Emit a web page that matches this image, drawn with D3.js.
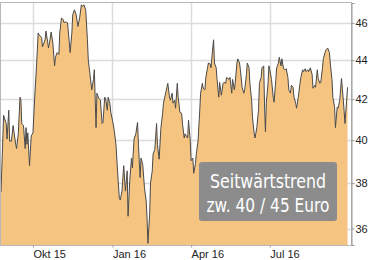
<!DOCTYPE html>
<html>
<head>
    <meta charset="utf-8">
    <title>Seitwärtstrend</title>
    <style>
        body { margin: 0; background: #fff; }
        .grid line { stroke: #dcdcdc; stroke-width: 1.5; }
        .area { fill: #f6c481; }
        .line { fill: none; stroke: #4a4a4a; stroke-width: 1; }
        .axis text { font-family: "Liberation Sans", Arial, sans-serif; font-size: 11px; fill: #222; }
        .note text { font-family: "DejaVu Sans", sans-serif; fill: #fff; }
    </style>
</head>
<body>
    <div id="chart"></div>
    <script src="https://d3js.org/d3.v7.min.js"></script>
    <script>
        // days after 25 Aug 2015 and closing prices (Euro)
        const startDate = new Date(2015, 7, 25);
        const days = [0, 3, 6, 7, 9, 10, 12, 14, 17, 18, 20, 22, 23, 24, 26, 28, 29, 30, 31, 33,
            35, 37, 39, 41, 43, 44, 47, 48, 51, 52, 54, 55, 57, 58, 60, 62, 63, 65, 67, 68,
            70, 72, 73, 75, 77, 79, 80, 82, 83, 85, 87, 89, 91, 93, 94, 96, 98, 100, 101, 103,
            105, 107, 108, 110, 111, 113, 115, 117, 118, 120, 121, 123, 124, 126, 127, 129, 131, 133, 135, 137,
            138, 140, 142, 144, 146, 147, 149, 151, 152, 154, 156, 158, 159, 161, 162, 164, 166, 168, 169, 170,
            172, 173, 175, 176, 178, 180, 181, 183, 185, 187, 188, 190, 192, 193, 195, 196, 198, 199, 201, 202,
            204, 205, 207, 209, 210, 212, 213, 216, 217, 219, 220, 222, 223, 225, 226, 228, 230, 231, 233, 234,
            236, 237, 239, 240, 242, 243, 245, 246, 247, 249, 250, 252, 253, 255, 257, 258, 260, 261, 264, 265,
            267, 268, 270, 271, 273, 274, 276, 277, 279, 281, 282, 284, 285, 287, 288, 290, 291, 293, 294, 296,
            298, 299, 301, 302, 304, 305, 306, 307, 309, 310, 311, 313, 315, 316, 318, 319, 321, 322, 324, 325,
            327, 329, 330, 332, 333, 335, 336, 338, 339, 341, 342, 344, 346, 347, 349, 350, 352, 353, 355, 356,
            358, 360, 361, 363, 364, 366, 367, 369, 370, 372, 373, 375, 376, 378, 380, 381, 383, 384, 386, 387,
            389, 390, 392, 394, 395, 397, 398, 400, 401];
        const prices = [37.6, 41.2, 40.8, 40.05, 41.45, 39.95, 39.95, 40.7, 39.8, 39.6, 40.3, 42.1, 41.95, 40.8, 40.7, 39.6, 40.6, 39.8, 40.35, 38.8,
            40.2, 40.35, 42.1, 43.6, 45.45, 45.35, 45.2, 44.7, 45.08, 45.55, 44.95, 44.64, 45.17, 45.5, 44.9, 43.7, 44.15, 44.4, 44.3, 45.45,
            46.27, 46.17, 46.0, 46.05, 46.0, 44.95, 44.4, 45.45, 46.44, 46.72, 46.44, 45.8, 46.27, 47.0, 46.9, 47.0, 46.72, 45.08, 44.0, 43.25,
            42.47, 43.0, 43.5, 40.6, 42.3, 42.05, 41.95, 40.8, 40.85, 42.1, 42.05, 41.45, 42.1, 41.8, 41.35, 40.96, 40.47, 39.8, 38.45, 37.3,
            37.25, 37.64, 38.8, 37.64, 38.56, 36.53, 38.1, 39.15, 38.7, 40.05, 40.3, 40.85, 39.8, 38.25, 39.15, 38.85, 37.8, 37.2, 36.45, 35.37,
            36.62, 38.0, 38.56, 39.35, 39.55, 40.8, 39.8, 39.1, 40.57, 41.3, 41.8, 42.2, 42.6, 42.8, 42.1, 41.95, 42.3, 41.8, 41.95, 41.55,
            42.8, 42.1, 41.35, 41.3, 40.8, 40.1, 40.3, 40.1, 40.96, 39.95, 39.03, 39.15, 38.45, 38.9, 39.35, 39.95, 41.45, 42.3, 42.8, 42.55,
            42.47, 43.1, 43.6, 43.85, 43.8, 43.6, 44.64, 45.08, 43.85, 43.6, 43.0, 42.1, 42.85, 42.2, 42.8, 42.85, 42.8, 43.1, 43.0, 43.1,
            42.3, 43.0, 42.47, 42.8, 43.85, 44.07, 43.85, 43.5, 42.6, 42.3, 42.47, 43.25, 43.85, 43.6, 42.8, 41.95, 41.1, 40.3, 40.1, 40.6,
            41.45, 42.8, 43.1, 43.6, 43.7, 41.6, 40.4, 41.8, 42.8, 43.7, 43.5, 43.0, 42.1, 41.85, 43.0, 43.6, 43.85, 44.15, 43.7, 44.07,
            43.55, 43.5, 43.55, 43.1, 42.47, 42.3, 42.7, 42.6, 42.1, 41.8, 41.55, 42.1, 42.8, 43.1, 43.5, 43.4, 43.55, 43.4, 43.5, 43.4,
            43.6, 43.25, 42.55, 42.7, 42.6, 43.5, 43.05, 42.8, 42.85, 43.6, 44.07, 44.4, 44.54, 44.64, 44.4, 43.85, 43.0, 42.1, 41.6, 40.6,
            41.6, 41.55, 41.95, 43.05, 42.55, 41.45, 40.8, 41.95, 42.6];

        const yTicks = [36, 38, 40, 42, 44, 46];
        const xTicks = [new Date(2015, 9, 1), new Date(2016, 0, 1), new Date(2016, 3, 1), new Date(2016, 6, 1)];
        const xLabels = ["Okt 15", "Jan 16", "Apr 16", "Jul 16"];
        const noteLines = ["Seitwärtstrend", "zw. 40 / 45 Euro"];

        const width = 368, height = 260;
        const plot = { left: 1, right: 351, top: 3, bottom: 245 };

        const data = days.map((d, i) => ({ date: d3.timeDay.offset(startDate, d), value: prices[i] }));

        const svg = d3.select("#chart").append("svg")
            .attr("width", width)
            .attr("height", height);

        const x = d3.scaleTime()
            .domain([startDate, new Date(2016, 9, 3)])
            .range([plot.left, plot.right]);

        const y = d3.scaleLog()
            .domain([35.3, 47.1])
            .range([plot.bottom, plot.top]);

        // gridlines
        const grid = svg.append("g").attr("class", "grid");
        grid.selectAll(".h").data(yTicks).enter().append("line")
            .attr("x1", plot.left).attr("x2", plot.right)
            .attr("y1", d => Math.round(y(d)) + 0.5).attr("y2", d => Math.round(y(d)) + 0.5);
        grid.selectAll(".v").data(xTicks).enter().append("line")
            .attr("x1", d => Math.round(x(d)) + 0.5).attr("x2", d => Math.round(x(d)) + 0.5)
            .attr("y1", plot.top).attr("y2", plot.bottom);

        // price area + line
        const area = d3.area()
            .x(d => x(d.date))
            .y0(plot.bottom)
            .y1(d => y(d.value));
        const line = d3.line()
            .x(d => x(d.date))
            .y(d => y(d.value));

        svg.append("path").datum(data).attr("class", "area").attr("d", area);
        svg.append("path").datum(data).attr("class", "line").attr("d", line);

        // frame
        svg.append("rect")
            .attr("x", plot.left - 0.5).attr("y", plot.top - 0.5)
            .attr("width", plot.right - plot.left + 1).attr("height", plot.bottom - plot.top + 1)
            .attr("fill", "none").attr("stroke", "#b8b8b8").attr("stroke-width", 1);

        // right axis
        const yAxis = d3.axisRight(y)
            .tickValues(yTicks)
            .tickFormat(d3.format("d"))
            .tickSize(3)
            .tickPadding(1);
        const ya = svg.append("g").attr("class", "axis")
            .attr("transform", "translate(" + (plot.right + 0.5) + ",0)")
            .call(yAxis);
        ya.select(".domain").attr("stroke", "#999");
        ya.selectAll(".tick line").attr("stroke", "#999");

        // bottom axis, labels left aligned at the month start
        const xAxis = d3.axisBottom(x)
            .tickValues(xTicks)
            .tickFormat((d, i) => xLabels[i])
            .tickSize(2)
            .tickPadding(2);
        const xa = svg.append("g").attr("class", "axis")
            .attr("transform", "translate(0," + (plot.bottom + 0.5) + ")")
            .call(xAxis);
        xa.select(".domain").remove();
        xa.selectAll(".tick line").attr("stroke", "#999");
        xa.selectAll(".tick text").attr("text-anchor", "start").attr("x", 0).attr("dy", "0.75em");

        // annotation box
        const note = svg.append("g").attr("class", "note");
        note.append("rect")
            .attr("x", 199).attr("y", 162)
            .attr("width", 138).attr("height", 59)
            .attr("rx", 3)
            .attr("fill", "#8c8c8c");
        note.selectAll("text").data(noteLines).enter().append("text")
            .attr("x", 268)
            .attr("y", (d, i) => 188 + i * 24)
            .attr("text-anchor", "middle")
            .attr("font-size", 19)
            .attr("textLength", (d, i) => i === 0 ? 116 : 123)
            .attr("lengthAdjust", "spacingAndGlyphs")
            .text(d => d);
    </script>
</body>
</html>
